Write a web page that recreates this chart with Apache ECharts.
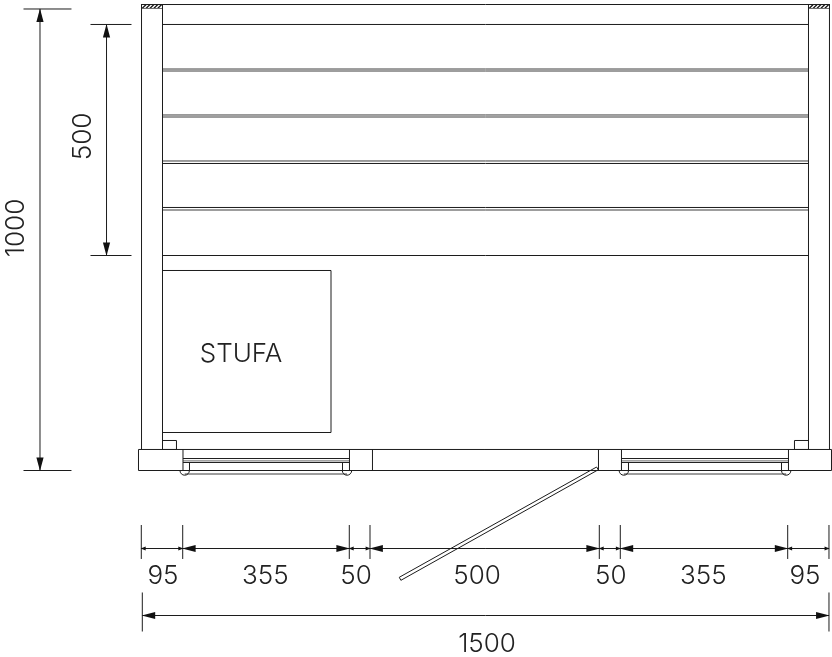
<!DOCTYPE html>
<html><head><meta charset="utf-8">
<style>html,body{margin:0;padding:0;background:#fff}#c{width:832px;height:657px}</style>
<script src="https://cdn.jsdelivr.net/npm/echarts@6/dist/echarts.min.js"></script>
</head><body><div id="c"></div>
<script>
// Drawing values, in nominal millimetres of the plan
const wallX = [-2.1, 43.7, 1453.7, 1499.5];
const wallTop = 1011.3, wallFoot = 45.1, topLine = 1010.2, hatchFoot = 1001.6;
const shelfY = [966.9, 665.4, 570.0, 465.8];
const shelfSoftY = [870.3, 866.0, 770.6, 766.2, 670.8, 564.5];
const stove = [43.7, 411.5, 81.9, 433.3];
const stoveLabel = ['STUFA', 215, 251];
const sillX = [-8.7, 88.4, 451.8, 502.0, 995.3, 1045.5, 1410.0, 1503.9];
const sillY = [45.1, -0.5];
const windowSpans = [[88.4, 451.8], [1045.5, 1410.0]];
const windowRailY = [25.5, 16.9];
const windowRailSoftY = 20.4;
const windowJambX = [102.6, 436.6, 1060.8, 1394.8];
const handleX = [92.1, 446.4, 1050.6, 1405.0];
const handleSpans = [[92.1, 446.4], [1050.6, 1405.0]];
const handleY = -0.5, handleBarY = -8.1;
const blocks = [[43.7, 74.2, 45.1, 64.6], [1423.1, 1453.7, 45.1, 64.6]];
const doorOutline = [[994.9, 1.2], [991.2, 7.1], [560.5, -232.1], [564.0, -238.7]];
const hatchLeft = [-1, 7.5, 16, 24.5, 33];
const hatchRight = [1455, 1463.5, 1472, 1480.5, 1489];

const chainStops = [-2.6, 87.8, 451.4, 496.6, 997.1, 1042.9, 1408.3, 1498.4];
const chainLabels = ['95', '355', '50', '500', '50', '355', '95'];
const chainLabelX = [44.8, 268.1, 466, 730.1, 1022, 1224, 1446.1];
const chainY = -169.7, chainTick = [-118.7, -192.4], chainLabelY = -229.5;
const totalStops = [-0.4, 1498.4];
const totalLabel = ['1500', 752, -376.5];
const totalY = -315.0, totalTick = [-265.1, -349.7];
const heightDim = { x: -223.7, stops: [-0.5, 1000.5], tick: [-259.7, -155], label: ['1000', -275, 525.5] };
const shelfDim = { x: -78.5, stops: [465.8, 966.9], tick: [-113.5, -24], label: ['500', -129, 724] };

const INK = '#1c1c1c', SOFT = '#6e6e6e', BLUR = '#3c3c3c';
const FONT = '300 26px Inter, Lato, sans-serif';

// Build line lists
const h = (y, a, b) => [a, y, b, y];
const v = (x, a, b) => [x, a, x, b];
const rect = (x0, x1, y0, y1) => [h(y0, x0, x1), h(y1, x0, x1), v(x0, y0, y1), v(x1, y0, y1)];

const inkLines = [
  ...wallX.map(x => v(x, wallFoot, wallTop)),
  h(topLine, wallX[0], wallX[3]),
  ...shelfY.map(y => h(y, wallX[1], wallX[2])),
  ...rect(stove[0], stove[1], stove[2], stove[3]),
  ...sillY.map(y => h(y, sillX[0], sillX[7])),
  ...sillX.map(x => v(x, sillY[0], sillY[1])),
  ...windowSpans.flatMap(s => windowRailY.map(y => h(y, s[0], s[1]))),
  ...windowJambX.map(x => v(x, windowRailY[1], sillY[1])),
  ...blocks.flatMap(b => rect(b[0], b[1], b[2], b[3])),
  ...doorOutline.map((p, i) => { const q = doorOutline[(i + 1) % 4]; return [p[0], p[1], q[0], q[1]]; }),
  ...chainStops.map(x => v(x, chainTick[0], chainTick[1])),
  h(chainY, chainStops[0], chainStops[7]),
  ...totalStops.map(x => v(x, totalTick[0], totalTick[1])),
  h(totalY, totalStops[0], totalStops[1]),
  ...[heightDim, shelfDim].flatMap(d => [v(d.x, d.stops[0], d.stops[1]), ...d.stops.map(y => h(y, d.tick[0], d.tick[1]))])
];
const softLines = [
  h(hatchFoot, wallX[0], wallX[1]), h(hatchFoot, wallX[2], wallX[3]),
  ...windowSpans.map(s => h(windowRailSoftY, s[0], s[1]))
];
const blurLines = [
  ...shelfSoftY.map(y => h(y, wallX[1], wallX[2])),
  ...handleSpans.map(s => h(handleBarY, s[0], s[1]))
];
const hatchLines = [...hatchLeft, ...hatchRight].map(x => [x, hatchFoot, x + 9, wallTop - 1]);

// Arrowheads sit inside each span with the tip at the extension line: [tipX, tipY, dirX, dirY, big]
const arrows = [];
function spanArrows(stops, fixed, horizontal) {
  for (let i = 0; i + 1 < stops.length; i++) {
    const big = Math.abs(stops[i + 1] - stops[i]) > 150 ? 1 : 0;
    const mk = (val, d) => horizontal ? [val, fixed, d, 0, big] : [fixed, val, 0, d, big];
    arrows.push(mk(stops[i], -1), mk(stops[i + 1], 1));
  }
}
spanArrows(chainStops, chainY, true);
spanArrows(totalStops, totalY, true);
spanArrows(heightDim.stops, heightDim.x, false);
spanArrows(shelfDim.stops, shelfDim.x, false);

const labels = [
  ...chainLabels.map((t, i) => [t, chainLabelX[i], chainLabelY, 0]),
  [totalLabel[0], totalLabel[1], totalLabel[2], 0],
  [heightDim.label[0], heightDim.label[1], heightDim.label[2], 1],
  [shelfDim.label[0], shelfDim.label[1], shelfDim.label[2], 1],
  [stoveLabel[0], stoveLabel[1], stoveLabel[2], 0]
];

function segSeries(name, segs, color, w) {
  return { type: 'custom', name, coordinateSystem: 'cartesian2d', clip: false, silent: true, data: segs,
    renderItem: (p, api) => {
      const a = api.coord([api.value(0), api.value(1)]), b = api.coord([api.value(2), api.value(3)]);
      return { type: 'line', shape: { x1: a[0], y1: a[1], x2: b[0], y2: b[1] }, style: { stroke: color, lineWidth: w, fill: null } };
    } };
}

const series = [
  segSeries('hatch', hatchLines, '#111', 1.2),
  segSeries('soft', softLines, SOFT, 1),
  segSeries('blur', blurLines, BLUR, 1),
  segSeries('ink', inkLines, INK, 1),
  { type: 'custom', name: 'handles', coordinateSystem: 'cartesian2d', clip: false, silent: true,
    data: handleX.map(x => [x, handleY]),
    renderItem: (p, api) => {
      const c = api.coord([api.value(0), api.value(1)]);
      return { type: 'arc', shape: { cx: c[0], cy: c[1], r: 4.7, startAngle: 0, endAngle: Math.PI, clockwise: true },
        style: { stroke: INK, lineWidth: 1, fill: null } };
    } },
  { type: 'custom', name: 'arrows', coordinateSystem: 'cartesian2d', clip: false, silent: true, data: arrows,
    renderItem: (p, api) => {
      const t = api.coord([api.value(0), api.value(1)]);
      const dx = api.value(2), dy = -api.value(3), big = api.value(4);
      const len = big ? 13.5 : 5, half = big ? 3.6 : 1.9;
      const tip = [t[0] + dx * 0.6, t[1] + dy * 0.6];
      const bx = tip[0] - dx * len, by = tip[1] - dy * len;
      return { type: 'polygon', shape: { points: [tip, [bx - dy * half, by - dx * half], [bx + dy * half, by + dx * half]] },
        style: { fill: '#111', stroke: null } };
    } },
  { type: 'custom', name: 'labels', coordinateSystem: 'cartesian2d', clip: false, silent: true,
    data: labels.map(l => ({ value: [l[1], l[2], l[3]], name: l[0] })),
    renderItem: (p, api) => {
      const c = api.coord([api.value(0), api.value(1)]);
      return { type: 'text', x: c[0], y: c[1], rotation: api.value(2) ? Math.PI / 2 : 0,
        style: { text: labels[p.dataIndex][0], font: FONT, fill: '#222', textAlign: 'center', textVerticalAlign: 'middle' } };
    } }
];

const chart = echarts.init(document.getElementById('c'), null, { renderer: 'canvas' });
chart.setOption({
  animation: false, backgroundColor: '#fff',
  grid: { left: 0, right: 0, top: 0, bottom: 0 },
  xAxis: { type: 'value', min: -311, max: 1505, show: false },
  yAxis: { type: 'value', min: -405, max: 1020, show: false },
  series
});
</script></body></html>
